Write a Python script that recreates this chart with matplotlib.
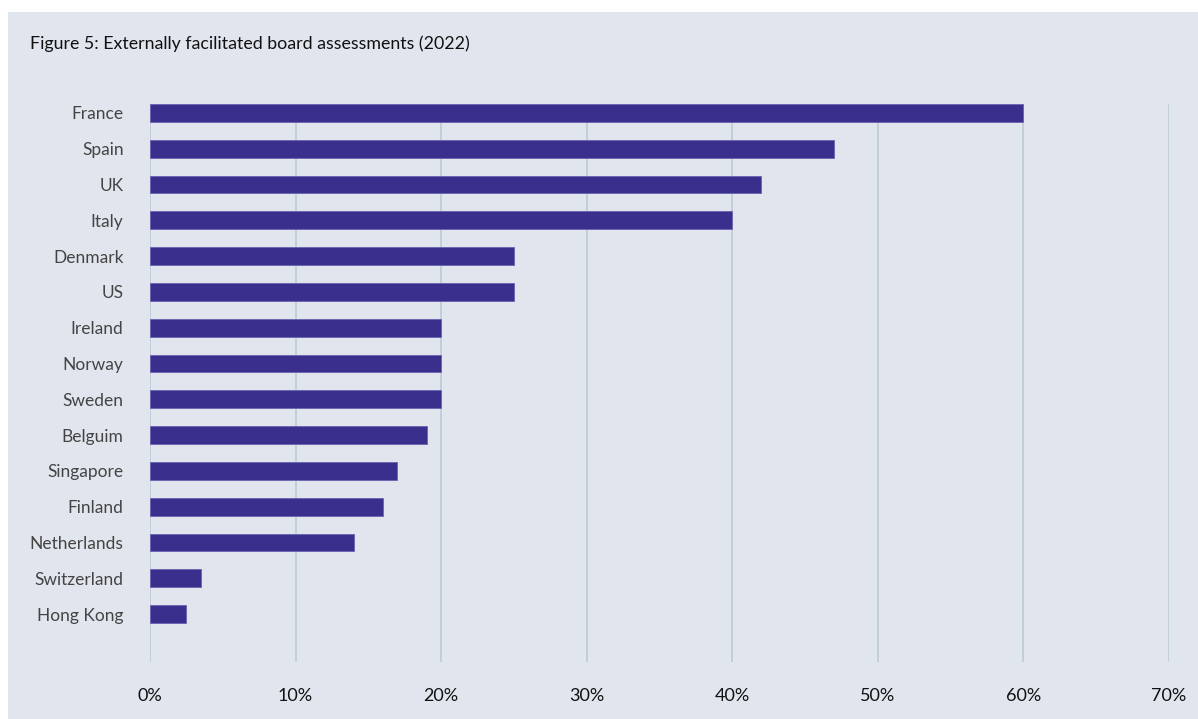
import matplotlib.pyplot as plt
from matplotlib.patches import Rectangle

# Data
countries = ['France', 'Spain', 'UK', 'Italy', 'Denmark', 'US', 'Ireland', 'Norway',
             'Sweden', 'Belguim', 'Singapore', 'Finland', 'Netherlands', 'Switzerland',
             'Hong Kong']
shares = [60, 47, 42, 40, 25, 25, 20, 20, 20, 19, 17, 16, 14, 3.5, 2.5]
xticks = [0, 10, 20, 30, 40, 50, 60, 70]
xtick_labels = ['0%', '10%', '20%', '30%', '40%', '50%', '60%', '70%']

plt.rcParams['font.family'] = ['Lato', 'DejaVu Sans']

fig = plt.figure(figsize=(11.98, 7.19), dpi=100, facecolor='white')

# light panel behind the chart (low zorder so the axes stay on top)
fig.patches.append(Rectangle((8 / 1198, 0), 1, 1 - 12 / 719, transform=fig.transFigure,
                             facecolor='#e1e6ee', edgecolor='none', zorder=-10))

ax = fig.add_axes([150 / 1198, 1 - 662 / 719, 1019 / 1198, 558 / 719])
ax.set_facecolor('none')

ypos = list(range(len(countries)))
ax.barh(ypos, shares, height=0.5, color='#3b2f8d', edgecolor='#6b62b0', linewidth=0.6, zorder=3)

ax.set_xlim(0, 70)
ax.set_ylim(len(countries) - 1 + 1.34, -0.25)
ax.set_xticks(xticks)
ax.set_xticklabels(xtick_labels)
ax.set_yticks(ypos)
ax.set_yticklabels(countries)

ax.grid(axis='x', color='#bccad6', linewidth=1.2, zorder=1)
ax.grid(axis='y', visible=False)
ax.set_axisbelow(True)
for s in ax.spines.values():
    s.set_visible(False)

ax.tick_params(axis='x', length=0, pad=19, labelsize=13, labelcolor='#111111')
ax.tick_params(axis='y', length=0, pad=19, labelsize=12.5, labelcolor='#444444')

fig.text(30 / 1198, 1 - 44 / 719, 'Figure 5: Externally facilitated board assessments (2022)',
         fontsize=12.8, color='#111111', va='center', ha='left')

fig.savefig('out.png', dpi=100, facecolor=fig.get_facecolor())
